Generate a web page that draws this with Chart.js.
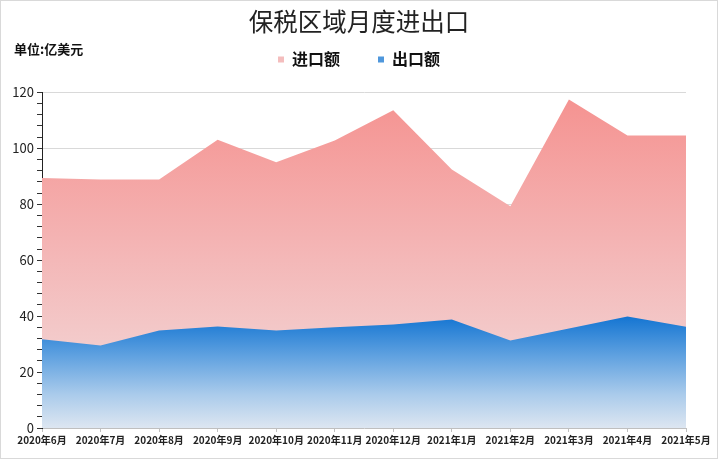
<!DOCTYPE html>
<html><head><meta charset="utf-8">
<script src="https://cdn.jsdelivr.net/npm/chart.js@4"></script>
<style>html,body{margin:0;padding:0;background:#fff}#wrap{width:718px;height:459px;position:relative}</style>
</head><body><div id="wrap"><canvas id="c" width="718" height="459"></canvas></div>
<script>
const categories = ['2020年6月','2020年7月','2020年8月','2020年9月','2020年10月','2020年11月','2020年12月','2021年1月','2021年2月','2021年3月','2021年4月','2021年5月'];
const importValues = [89.4, 88.9, 88.9, 103.1, 95.0, 102.8, 113.6, 92.4, 79.3, 117.5, 104.6, 104.6];
const exportValues = [31.7, 29.5, 34.9, 36.3, 34.9, 36.0, 37.0, 38.8, 31.3, 35.6, 39.9, 36.2];
const yTicks = [0, 20, 40, 60, 80, 100, 120];
const titleText = '保税区域月度进出口';
const unitText = '单位:亿美元';
const seriesNames = ['进口额', '出口额'];

const FONT = '"Noto Sans CJK SC", "Noto Sans", sans-serif';
const NARROW = '"Liberation Sans Narrow", "Noto Sans CJK SC", sans-serif';

function gradFill(stops, topValue) {
  return function(ctx) {
    const chart = ctx.chart;
    const area = chart.chartArea;
    if (!area) return stops[0][1];
    const y = chart.scales.y;
    const g = chart.ctx.createLinearGradient(0, y.getPixelForValue(topValue), 0, y.getPixelForValue(0));
    stops.forEach(s => g.addColorStop(s[0], s[1]));
    return g;
  };
}

const frame = {
  id: 'frame',
  afterDraw(chart) {
    const c = chart.ctx;
    c.save();
    c.strokeStyle = '#d9d9d9';
    c.lineWidth = 1;
    c.strokeRect(0.5, 0.5, chart.width - 1, chart.height - 1);
    c.fillStyle = '#111';
    c.font = 'bold 13px ' + FONT;
    c.textBaseline = 'middle';
    c.textAlign = 'left';
    c.fillText(unitText, 14, 49);
    c.restore();
  }
};

new Chart(document.getElementById('c'), {
  type: 'line',
  data: {
    labels: categories,
    datasets: [
      {
        label: seriesNames[0],
        data: importValues,
        fill: 'origin',
        order: 2,
        borderWidth: 0,
        pointRadius: 0,
        tension: 0,
        backgroundColor: gradFill([[0, '#F59391'], [0.45, '#F4B5B5'], [1, '#F2DEDE']], Math.max(...importValues)),
        borderColor: 'rgba(0,0,0,0)'
      },
      {
        label: seriesNames[1],
        data: exportValues,
        fill: 'origin',
        order: 1,
        borderWidth: 0,
        pointRadius: 0,
        tension: 0,
        backgroundColor: gradFill([[0, '#1475D2'], [0.35, '#5FA1E0'], [0.7, '#AACBEB'], [1, '#DDE6F1']], Math.max(...exportValues)),
        borderColor: 'rgba(0,0,0,0)'
      }
    ]
  },
  options: {
    responsive: false,
    animation: false,
    devicePixelRatio: 1,
    layout: { padding: { top: 0, right: 0, bottom: 0, left: 0 } },
    plugins: {
      tooltip: { enabled: false },
      title: {
        display: true,
        text: titleText,
        color: '#222',
        font: { family: FONT, size: 24.5, weight: 'normal' },
        padding: { top: 7, bottom: -23 }
      },
      subtitle: {
        display: true,
        text: '',
        position: 'top',
        weight: 500,
        font: { size: 10 },
        padding: { top: 3, bottom: 0 }
      },
      legend: {
        display: true,
        labels: {
          color: '#111',
          font: { family: FONT, size: 16, weight: 'bold' },
          boxWidth: 6,
          boxHeight: 6,
          padding: 38,
          generateLabels(chart) {
            const cols = ['#F4BDBD', '#4F97DC'];
            return chart.data.datasets.map((d, i) => ({
              text: d.label, fillStyle: cols[i], strokeStyle: cols[i], lineWidth: 0,
              datasetIndex: i, hidden: false, fontColor: '#111'
            }));
          }
        }
      }
    },
    scales: {
      x: {
        type: 'category',
        offset: false,
        grid: { display: true, drawOnChartArea: false, tickLength: 4, color: '#bfbfbf' },
        border: { display: true, color: '#bfbfbf' },
        ticks: {
          autoSkip: false, maxRotation: 0, minRotation: 0,
          color: '#222', padding: 2,
          font: { family: NARROW, size: 10, weight: 'bold' }
        },
        afterFit(s) { s.height = 31; }
      },
      y: {
        min: yTicks[0],
        max: yTicks[yTicks.length - 1],
        afterBuildTicks(s) {
          const t = [];
          for (let v = yTicks[0]; v <= yTicks[yTicks.length - 1]; v += 4) t.push({ value: v });
          s.ticks = t;
        },
        grid: {
          color: c => (yTicks.includes(c.tick.value) && c.tick.value !== 0) ? '#d9d9d9' : 'rgba(0,0,0,0)',
          tickColor: '#333',
          tickLength: 5,
          z: -1
        },
        border: { display: true, color: '#222', width: 1 },
        ticks: {
          autoSkip: false,
          color: '#222',
          padding: 3,
          font: { family: FONT, size: 13 },
          callback: v => yTicks.includes(v) ? String(v) : ''
        },
        afterFit(s) { s.width = 42; }
      },
      yRight: {
        position: 'right',
        display: true,
        min: yTicks[0],
        max: yTicks[yTicks.length - 1],
        grid: { display: false },
        border: { display: false },
        ticks: { display: false },
        afterFit(s) { s.width = 32; }
      }
    }
  },
  plugins: [frame]
});
</script>
</body></html>
